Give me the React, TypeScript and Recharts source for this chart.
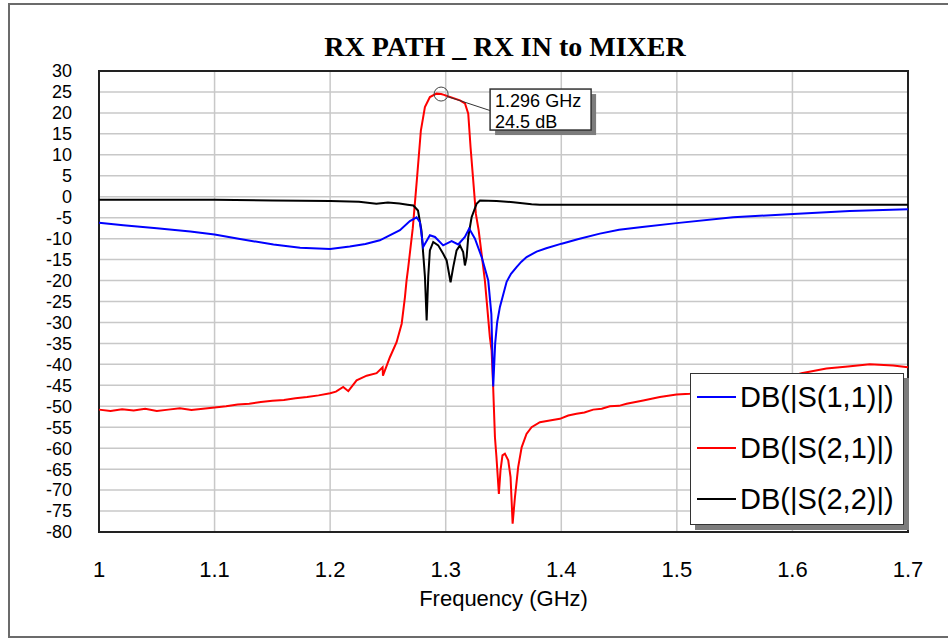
import React from 'react';
import {
    LineChart,
    Line,
    XAxis,
    YAxis,
    CartesianGrid,
    Legend,
    ReferenceArea,
    ReferenceDot,
} from 'recharts';

// axis ticks
const freqTicks = [1, 1.1, 1.2, 1.3, 1.4, 1.5, 1.6, 1.7];
const dbTicks = [-80, -75, -70, -65, -60, -55, -50, -45, -40, -35, -30, -25, -20, -15, -10, -5, 0, 5, 10, 15, 20, 25, 30];

// DB(|S(1,1)|)
const s11Freq = [
    1.0, 1.021, 1.05, 1.079, 1.1, 1.122, 1.151, 1.174, 1.2, 1.217, 1.2305, 1.243, 1.2604, 1.269, 1.2748,
    1.2777, 1.2805, 1.2863, 1.2907, 1.2978, 1.3051, 1.3108, 1.3166, 1.3203, 1.3253, 1.3311, 1.3368, 1.3395,
    1.3411, 1.3428, 1.3445, 1.3469, 1.3527, 1.3565, 1.3613, 1.3655, 1.37, 1.3786, 1.387, 1.4003, 1.415,
    1.4334, 1.45, 1.47, 1.4997, 1.5487, 1.6006, 1.6497, 1.7,
];
const s11Db = [
    -6.2, -6.8, -7.5, -8.3, -9.0, -10.1, -11.4, -12.2, -12.5, -11.9, -11.3, -10.4, -8.0, -5.8, -4.9,
    -6.1, -12.0, -9.2, -9.6, -11.6, -10.6, -11.4, -9.6, -7.6, -10.0, -14.4, -20.0, -28.0,
    -45.3, -35.0, -30.0, -26.3, -20.3, -18.4, -16.8, -15.5, -14.4, -13.1, -12.3, -11.2, -10.1,
    -8.8, -7.9, -7.2, -6.3, -4.9, -4.1, -3.4, -3.0,
];

// DB(|S(2,1)|)
const s21Freq = [
    1.0, 1.01, 1.02, 1.03, 1.04, 1.05, 1.06, 1.07, 1.08, 1.09, 1.1, 1.11, 1.12, 1.13, 1.14, 1.15, 1.16,
    1.17, 1.18, 1.19, 1.2, 1.205, 1.2113, 1.2157, 1.2229, 1.2316, 1.2402, 1.2454, 1.2457, 1.2517, 1.2575,
    1.2619, 1.2647, 1.2661, 1.2676, 1.2715, 1.275, 1.2785, 1.282, 1.2863, 1.292, 1.296, 1.2985, 1.3036,
    1.3123, 1.3166, 1.3195, 1.3215, 1.3238, 1.3261, 1.3285, 1.3339, 1.3382, 1.3397, 1.341, 1.3426, 1.3439,
    1.346, 1.3474, 1.3491, 1.3512, 1.3541, 1.3561, 1.3579, 1.3599, 1.3627, 1.3657, 1.3699, 1.3743, 1.3815,
    1.39, 1.3988, 1.406, 1.4132, 1.42, 1.4276, 1.435, 1.442, 1.45, 1.4565, 1.4709, 1.4853, 1.4997, 1.5112,
    1.53, 1.55, 1.57, 1.59, 1.6078, 1.6294, 1.648, 1.6669, 1.6871, 1.7,
];
const s21Db = [
    -50.8, -51.1, -50.7, -51.0, -50.6, -51.1, -50.8, -50.5, -50.9, -50.6, -50.3, -50.0, -49.6, -49.4, -49.0,
    -48.7, -48.5, -48.1, -47.8, -47.4, -46.9, -46.5, -45.4, -46.4, -43.8, -42.7, -42.1, -40.7, -42.7, -38.3,
    -34.7, -30.3, -24.0, -20.0, -16.8, -7.5, 3.9, 15.8, 21.4, 23.8, 24.6, 24.5, 24.3, 23.8,
    23.0, 22.3, 19.8, 11.8, 3.9, -4.1, -8.0, -20.0, -33.5, -36.7, -45.0, -57.4, -62.1,
    -70.9, -65.3, -61.7, -61.3, -62.9, -66.9, -78.0, -71.7, -64.5, -59.8, -56.6, -55.0, -53.8,
    -53.4, -53.0, -52.2, -51.8, -51.5, -50.8, -50.6, -50.0, -49.9, -49.4, -48.6, -47.8, -47.2, -47.0,
    -46.4, -45.5, -44.6, -43.5, -42.1, -41.0, -40.5, -40.0, -40.3, -40.7,
];

// DB(|S(2,2)|)
const s22Freq = [
    1.0, 1.05, 1.1, 1.15, 1.2, 1.225, 1.24, 1.25, 1.26, 1.267, 1.272, 1.276, 1.279, 1.282, 1.2835, 1.2849,
    1.2863, 1.2892, 1.2935, 1.2978, 1.3008, 1.3042, 1.3065, 1.3094, 1.3123, 1.3151, 1.3166, 1.3181, 1.3195,
    1.3224, 1.3267, 1.3296, 1.344, 1.3584, 1.3743, 1.3815, 1.4, 1.5, 1.6, 1.7,
];
const s22Db = [
    -0.7, -0.7, -0.75, -0.9, -1.0, -1.2, -1.7, -1.4, -1.6, -1.9, -2.1, -3.3, -8.0, -19.0, -29.5, -19.0,
    -12.8, -10.8, -11.6, -13.6, -15.2, -20.4, -16.8, -12.8, -11.6, -13.2, -16.4, -14.4, -9.6,
    -4.9, -1.7, -0.9, -1.0, -1.3, -1.8, -1.9, -1.9, -1.9, -1.9, -1.9,
];

const s11Data = s11Freq.map((f, i) => ({ f, db: s11Db[i] }));
const s21Data = s21Freq.map((f, i) => ({ f, db: s21Db[i] }));
const s22Data = s22Freq.map((f, i) => ({ f, db: s22Db[i] }));

const markerFreq = 1.296;
const markerDb = 24.5;

const SANS = '"Liberation Sans", Arial, sans-serif';

const legendItems = [
    { name: 'DB(|S(1,1)|)', color: '#0000ff' },
    { name: 'DB(|S(2,1)|)', color: '#ff0000' },
    { name: 'DB(|S(2,2)|)', color: '#000000' },
];

const LegendBox = () => (
    <div
        style={{
            position: 'relative',
            width: 214,
            height: 152,
            boxSizing: 'border-box',
            background: '#fff',
            border: '1.5px solid #333',
            boxShadow: '5px 5px 0 #7c7c7c',
            fontFamily: SANS,
        }}
    >
        {legendItems.map((item, i) => (
            <div key={item.name} style={{ position: 'absolute', left: 0, top: 23 + i * 51 - 16, height: 32, width: 214 }}>
                <div style={{ position: 'absolute', left: 6, top: 15, width: 39, height: 2, background: item.color }} />
                <span style={{ position: 'absolute', left: 49, top: 0, fontSize: 29, lineHeight: '32px', color: '#000', whiteSpace: 'nowrap' }}>
                    {item.name}
                </span>
            </div>
        ))}
    </div>
);

const MarkerShape = (props: any) => {
    const { cx, cy } = props;
    if (cx == null || cy == null) return null;
    const bx = cx + 49;
    const by = cy - 5;
    return (
        <g>
            <circle cx={cx} cy={cy} r={7} fill="none" stroke="#444" strokeWidth={1} />
            <line x1={cx + 6.5} y1={cy + 2.5} x2={bx} y2={cy + 16.5} stroke="#333" strokeWidth={1} />
            <rect x={bx + 5} y={by + 5} width={101} height={41} fill="#7c7c7c" />
            <rect x={bx} y={by} width={101} height={41} fill="#fff" stroke="#333" strokeWidth={1.5} />
            <text x={bx + 5} y={by + 18} fontSize={18} fontFamily={SANS} fill="#000">
                {markerFreq} GHz
            </text>
            <text x={bx + 5} y={by + 39} fontSize={18} fontFamily={SANS} fill="#000">
                {markerDb} dB
            </text>
        </g>
    );
};

export default function App() {
    return (
        <div style={{ position: 'absolute', left: 0, top: 0, width: 948, height: 639, overflow: 'hidden', background: '#fff' }}>
            {/* outer frame */}
            <div
                style={{
                    position: 'absolute',
                    left: 8,
                    top: 3,
                    width: 980,
                    height: 635,
                    boxSizing: 'border-box',
                    border: '2px solid #6b6b6b',
                }}
            />
            <LineChart
                width={948}
                height={639}
                margin={{ top: 71, right: 40, bottom: 37, left: 20 }}
                style={{ position: 'absolute', left: 0, top: 0 }}
            >
                <CartesianGrid stroke="#c8c8c8" strokeWidth={1.5} />
                <XAxis
                    type="number"
                    dataKey="f"
                    domain={[1, 1.7]}
                    ticks={freqTicks}
                    height={70}
                    axisLine={false}
                    tickLine={false}
                    tickSize={0}
                    tickMargin={29}
                    interval={0}
                    tick={{ fontSize: 22, fill: '#000', fontFamily: SANS }}
                    label={{
                        value: 'Frequency (GHz)',
                        position: 'insideBottom',
                        offset: -4,
                        style: { fontSize: 22, fill: '#000', fontFamily: SANS },
                    }}
                />
                <YAxis
                    type="number"
                    domain={[-80, 30]}
                    ticks={dbTicks}
                    width={79}
                    axisLine={false}
                    tickLine={false}
                    tickSize={0}
                    tickMargin={27}
                    interval={0}
                    tick={{ fontSize: 18, fill: '#000', fontFamily: SANS }}
                />
                <Line data={s21Data} dataKey="db" type="linear" stroke="#ff0000" strokeWidth={2} dot={false} isAnimationActive={false} />
                <Line data={s22Data} dataKey="db" type="linear" stroke="#000000" strokeWidth={2} dot={false} isAnimationActive={false} />
                <Line data={s11Data} dataKey="db" type="linear" stroke="#0000ff" strokeWidth={2} dot={false} isAnimationActive={false} />
                <ReferenceArea x1={1} x2={1.7} y1={-80} y2={30} fill="none" stroke="#222" strokeWidth={2} />
                <ReferenceDot x={markerFreq} y={markerDb} r={7} shape={MarkerShape} />
                <Legend
                    layout="vertical"
                    align="center"
                    verticalAlign="middle"
                    content={() => <LegendBox />}
                    wrapperStyle={{ position: 'absolute', left: 690, top: 373, width: 214, height: 152 }}
                />
            </LineChart>
            <svg width={948} height={639} style={{ position: 'absolute', left: 0, top: 0, pointerEvents: 'none' }}>
                <text
                    x={505}
                    y={56}
                    textAnchor="middle"
                    fontSize={28}
                    fontWeight="bold"
                    fontFamily='"Liberation Serif", "Times New Roman", serif'
                    fill="#000"
                >
                    RX PATH _ RX IN to MIXER
                </text>
            </svg>
        </div>
    );
}
